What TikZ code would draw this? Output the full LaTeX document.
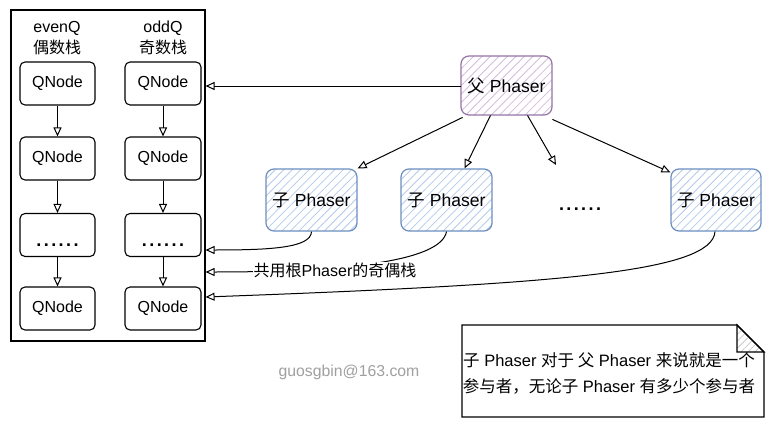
\documentclass[tikz,border=0pt]{standalone}
\usepackage{fontspec}
\setmainfont{Liberation Sans}
\newfontfamily\cjk{Noto Sans CJK SC}
\usetikzlibrary{arrows.meta,patterns.meta}
\definecolor{purpleS}{HTML}{9673A6}
\definecolor{purpleH}{HTML}{D2BEDC}
\definecolor{blueS}{HTML}{6C8EBF}
\definecolor{blueH}{HTML}{B4CBEC}
\definecolor{wm}{HTML}{A0A0A0}
\newcommand\sixdots{\textbf{.\kern2.4pt.\kern2.4pt.\kern2.4pt.\kern2.4pt.\kern2.4pt.}}
\begin{document}
\begin{tikzpicture}[x=1pt,y=-1pt,
  qbox/.style={draw,line width=1.1pt,rounded corners=5pt,minimum width=75pt,minimum height=43pt,inner sep=0pt,font=\fontsize{16}{18}\selectfont},
  hdr/.style={inner sep=0pt,font=\fontsize{16}{18}\selectfont},
  dotsty/.style={inner sep=0pt,anchor=base,font=\fontsize{18}{20}\selectfont},
  arr/.style={line width=1pt,-{Triangle[open,length=9pt,width=8pt]}},
  parentbox/.style={draw=purpleS,line width=1.2pt,rounded corners=8pt,minimum width=91pt,minimum height=59pt,inner sep=0pt,
    pattern={Lines[angle=45,distance=6pt,line width=0.8pt]},pattern color=purpleH,font=\fontsize{17.5}{20}\selectfont},
  childbox/.style={draw=blueS,line width=1.2pt,rounded corners=8pt,minimum width=91pt,minimum height=62pt,inner sep=0pt,
    pattern={Lines[angle=45,distance=6pt,line width=0.8pt]},pattern color=blueH,font=\fontsize{17.5}{20}\selectfont},
  lbl/.style={inner sep=1pt,fill=white,font=\fontsize{16}{18}\selectfont},
]
\useasboundingbox (0,0) rectangle (773,428);
\fill[white] (0,0) rectangle (773,428);

% container
\node[draw,line width=1.1pt,minimum width=194pt,minimum height=331pt,inner sep=0pt] (stack) at (108,175.5) {};
\node[hdr] (h1) at (57,28) {evenQ};
\node[hdr] (h2) at (57,47) {\cjk 偶数栈};
\node[hdr] (h3) at (163,28) {oddQ};
\node[hdr] (h4) at (163,47) {\cjk 奇数栈};

\node[qbox] (e1) at (57.5,83.5) {QNode};
\node[qbox] (e2) at (57.5,158.5) {QNode};
\node[qbox] (e3) at (57.5,235) {};
\node[dotsty] (e3t) at (57.5,246) {\sixdots};
\node[qbox] (e4) at (57.5,308.5) {QNode};
\node[qbox,minimum width=76pt] (o1) at (163,83.5) {QNode};
\node[qbox,minimum width=76pt] (o2) at (163,158.5) {QNode};
\node[qbox,minimum width=76pt] (o3) at (163,235) {};
\node[dotsty] (o3t) at (163,246) {\sixdots};
\node[qbox,minimum width=76pt] (o4) at (163,308.5) {QNode};

\draw[arr] (e1) -- (e2);
\draw[arr] (e2) -- (e3);
\draw[arr] (e3) -- (e4);
\draw[arr] (o1) -- (o2);
\draw[arr] (o2) -- (o3);
\draw[arr] (o3) -- (o4);

% phasers
\node[parentbox] (p) at (506.5,85.5) {{\cjk 父} Phaser};
\node[childbox] (c1) at (311.5,200) {{\cjk 子} Phaser};
\node[childbox] (c2) at (446.5,200) {{\cjk 子} Phaser};
\node[childbox,minimum width=90pt] (c3) at (716,200) {{\cjk 子} Phaser};
\node[dotsty] (dots) at (580,210) {\sixdots};
\coordinate (dtop) at (556,165);

\coordinate (in0) at (stack.east |- 0,86);
\coordinate (in1) at (stack.east |- 0,250);
\coordinate (in2) at (stack.east |- 0,272);
\coordinate (in3) at (stack.east |- 0,297);

\draw[arr] (p.west |- 0,86) -- (in0);
\draw[arr] ([xshift=2pt,yshift=-2pt]p.south west) -- (c1.north east);
\draw[arr] ([xshift=-16pt]p.south) -- ([xshift=18pt]c2.north);
\draw[arr] ([xshift=21pt]p.south) -- (dtop);
\draw[arr] ([yshift=-4pt]p.south east) -- ([yshift=-4pt]c3.north west);

\draw[arr] (c1.south) .. controls (311,248) and (270,250) .. (in1);
\draw[arr] (c2.south) .. controls (441,262) and (340,272) .. (in2);
\draw[arr] ([xshift=-1pt]c3.south) .. controls (712,272) and (560,284) .. (in3);
\node[lbl] (share) at (335,270) {{\cjk 共用根}Phaser{\cjk 的奇偶栈}};

% note
\draw[line width=1.1pt,fill=white] (462,325) -- (737,325) -- (764,352) -- (764,417) -- (462,417) -- cycle;
\draw[line width=1.1pt,pattern={Lines[angle=45,distance=5pt,line width=0.6pt]},pattern color=black!25] (737,325) -- (737,352) -- (764,352) -- cycle;
\node[inner sep=0pt,align=center,font=\fontsize{16.5}{26}\selectfont] (note) at (609,373)
  {{\cjk 子} Phaser {\cjk 对于 父} Phaser {\cjk 来说就是一个}\\{\cjk 参与者，无论子} Phaser {\cjk 有多少个参与者}};

\node[inner sep=0pt,text=wm,font=\fontsize{15.8}{18}\selectfont] (mark) at (349,372) {guosgbin@163.com};
\end{tikzpicture}
\end{document}
